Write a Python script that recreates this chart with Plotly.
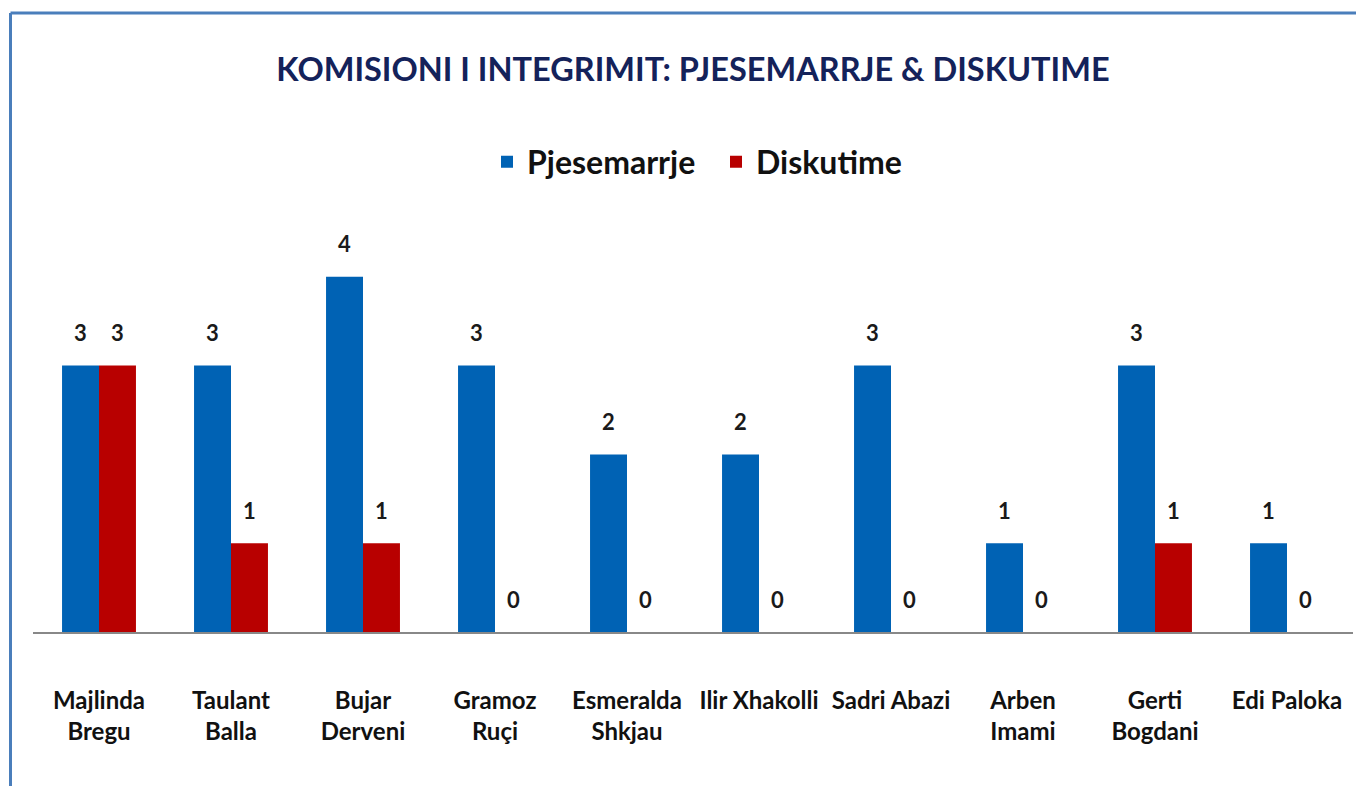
import plotly.graph_objects as go

categories = ["Majlinda<br>Bregu", "Taulant<br>Balla", "Bujar<br>Derveni", "Gramoz<br>Ruçi",
              "Esmeralda<br>Shkjau", "Ilir Xhakolli", "Sadri Abazi", "Arben<br>Imami",
              "Gerti<br>Bogdani", "Edi Paloka"]
pjesemarrje = [3, 3, 4, 3, 2, 2, 3, 1, 3, 1]
diskutime = [3, 1, 1, 0, 0, 0, 0, 0, 1, 0]

BLUE = "#0062B4"
RED = "#B80000"
FONT = "Lato, Carlito, sans-serif"

fig = go.Figure()
fig.add_trace(go.Bar(name="Pjesemarrje", x=categories, y=pjesemarrje, marker_color=BLUE,
                     marker_line_width=0))
fig.add_trace(go.Bar(name="Diskutime", x=categories, y=diskutime, marker_color=RED,
                     marker_line_width=0))

# data labels
for i, c in enumerate(categories):
    for vals, dx in ((pjesemarrje, -18.5), (diskutime, 18.5)):
        fig.add_annotation(x=c, y=vals[i], text=f"<b>{vals[i]}</b>", showarrow=False,
                           xshift=dx, yshift=33, yanchor="middle",
                           font=dict(family=FONT, size=22, color="#1a1a1a"))

# page coords are figure coords + 8 (body margin)
W, H = 1356, 778
L, R, T, B = 25, 11, 180, 154
pw, ph = W - L - R, H - T - B
bx = (2.5 - L) / pw
by = (H - B - 5) / ph
fig.add_shape(type="line", xref="paper", yref="paper", x0=bx, x1=bx, y0=-(B + 10) / ph, y1=by,
              line=dict(color="#4A7EBB", width=3))
fig.add_shape(type="line", xref="paper", yref="paper", x0=bx, x1=(W + 10 - L) / pw, y0=by, y1=by,
              line=dict(color="#4A7EBB", width=3))

fig.update_layout(
    width=W, height=H, autosize=False,
    margin=dict(l=L, r=R, t=T, b=B, autoexpand=False),
    paper_bgcolor="white", plot_bgcolor="white",
    barmode="group", bargap=0.44, bargroupgap=0,
    title=dict(text="<b>KOMISIONI I INTEGRIMIT: PJESEMARRJE & DISKUTIME</b>",
               x=0.5, xref="paper", xanchor="center", y=1 - 62 / H, yanchor="middle",
               font=dict(family=FONT, size=32.5, color="#14225A")),
    legend=dict(orientation="h", x=0.5 + 23 / pw, xanchor="center", xref="paper",
                y=(H - B - 154) / ph, yanchor="middle",
                font=dict(family=FONT, size=32, color="#111111", weight="bold"),
                itemwidth=30, entrywidth=184, entrywidthmode="pixels"),
    showlegend=True,
    font=dict(family=FONT),
)
fig.update_xaxes(showline=True, linecolor="#888888", linewidth=2, ticks="", tickangle=0,
                 automargin=False, ticklabelstandoff=46,
                 tickfont=dict(family=FONT, size=24, color="#111111", weight="bold"))
fig.update_yaxes(range=[0, 5], visible=False, showgrid=False, automargin=False)
fig.write_html("out.html")
